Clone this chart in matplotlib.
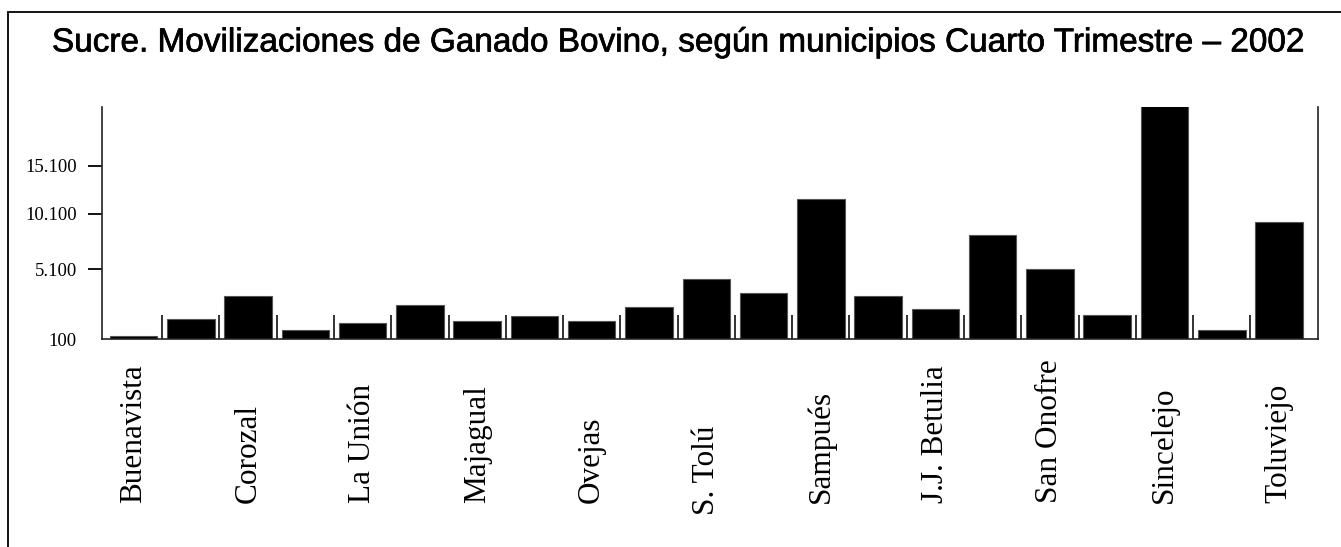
import numpy as np
import matplotlib
matplotlib.use("Agg")
import matplotlib.pyplot as plt
from matplotlib.patches import Rectangle
import matplotlib.transforms as mtransforms
import matplotlib.patheffects as pe

# ---- data ----
labels = ["Buenavista", "", "Corozal", "", "La Unión", "", "Majagual", "",
          "Ovejas", "", "S. Tolú", "", "Sampués", "", "J.J. Betulia", "",
          "San Onofre", "", "Sincelejo", "", "Toluviejo"]
values = [310, 1530, 3170, 740, 1240, 2530, 1390, 1740, 1390, 2390, 4390,
          3390, 11660, 3170, 2240, 8190, 5100, 1810, 21300, 740, 9370]
ytick_values = [100, 5100, 10100, 15100]
ytick_labels = ["100", "5.100", "10.100", "15.100"]

# ---- irregular value axis of the original (piecewise linear scale) ----
knot_vals = np.array([100.0, 5100.0, 10100.0, 15100.0])
knot_pos = np.array([0.0, 70.0, 125.0, 173.0])


def fwd(v):
    v = np.asarray(v, dtype=float)
    out = np.interp(v, knot_vals, knot_pos)
    hi = knot_pos[-1] + (v - knot_vals[-1]) * (knot_pos[-1] - knot_pos[-2]) / (knot_vals[-1] - knot_vals[-2])
    lo = knot_pos[0] + (v - knot_vals[0]) * (knot_pos[1] - knot_pos[0]) / (knot_vals[1] - knot_vals[0])
    out = np.where(v > knot_vals[-1], hi, out)
    out = np.where(v < knot_vals[0], lo, out)
    return out


def inv(p):
    p = np.asarray(p, dtype=float)
    out = np.interp(p, knot_pos, knot_vals)
    hi = knot_vals[-1] + (p - knot_pos[-1]) * (knot_vals[-1] - knot_vals[-2]) / (knot_pos[-1] - knot_pos[-2])
    lo = knot_vals[0] + (p - knot_pos[0]) * (knot_vals[1] - knot_vals[0]) / (knot_pos[1] - knot_pos[0])
    out = np.where(p > knot_pos[-1], hi, out)
    out = np.where(p < knot_pos[0], lo, out)
    return out


W, H = 1341, 547
fig = plt.figure(figsize=(W / 100, H / 100), dpi=100)
fig.patch.set_facecolor("white")

# outer frame (left and top edges visible)
fig.add_artist(Rectangle((8 / W, -0.05), 1.2, 1 - 12 / H + 0.05, transform=fig.transFigure,
                         fill=False, edgecolor="black", linewidth=1.3))

ax = fig.add_axes([102 / W, 1 - 339 / H, (1318 - 102) / W, (339 - 107) / H])
ax.set_yscale("function", functions=(fwd, inv))

x = np.arange(len(values))
ax.bar(x, values, width=0.83, color="black", edgecolor="#555555", linewidth=0.8)

ax.set_xlim(-0.55, len(values) - 1 + 0.68)
ax.set_ylim(100, float(inv(232.0)))

# spines
for s in ["left", "bottom", "right"]:
    ax.spines[s].set_color("#222222")
    ax.spines[s].set_linewidth(1.2)
ax.spines["top"].set_visible(False)

# y ticks
ax.set_yticks(ytick_values)
ax.set_yticklabels(ytick_labels, fontfamily="Liberation Serif", fontsize=13.5)
ax.yaxis.set_minor_locator(matplotlib.ticker.NullLocator())
ax.tick_params(axis="y", which="major", direction="out", length=10, width=1.3, pad=8)
ax.yaxis.get_major_ticks()[0].tick1line.set_visible(False)

# x ticks: short inward marks between categories
ax.set_xticks([])
ax.set_xticks(np.arange(len(values) - 1) + 0.5, minor=True)
ax.tick_params(axis="x", which="minor", direction="in", length=17, width=1.3, color="#222222")

# category labels (rotated, bottom aligned)
trans = mtransforms.blended_transform_factory(ax.transData, ax.transAxes)
label_shift = {"S. Tolú": -0.052}
for xi, lab in zip(x, labels):
    if lab:
        ax.text(xi, -0.707 + label_shift.get(lab, 0.0), lab, transform=trans,
                rotation=90, ha="center", va="bottom",
                fontfamily="Liberation Serif", fontsize=22.5)

fig.text(678 / W, 1 - 43 / H,
         "Sucre. Movilizaciones de Ganado Bovino, según municipios Cuarto Trimestre – 2002",
         ha="center", va="center", fontfamily="Liberation Sans", fontsize=24,
         path_effects=[pe.withStroke(linewidth=0.5, foreground="black")])

fig.savefig("out.png", dpi=100, facecolor="white")
